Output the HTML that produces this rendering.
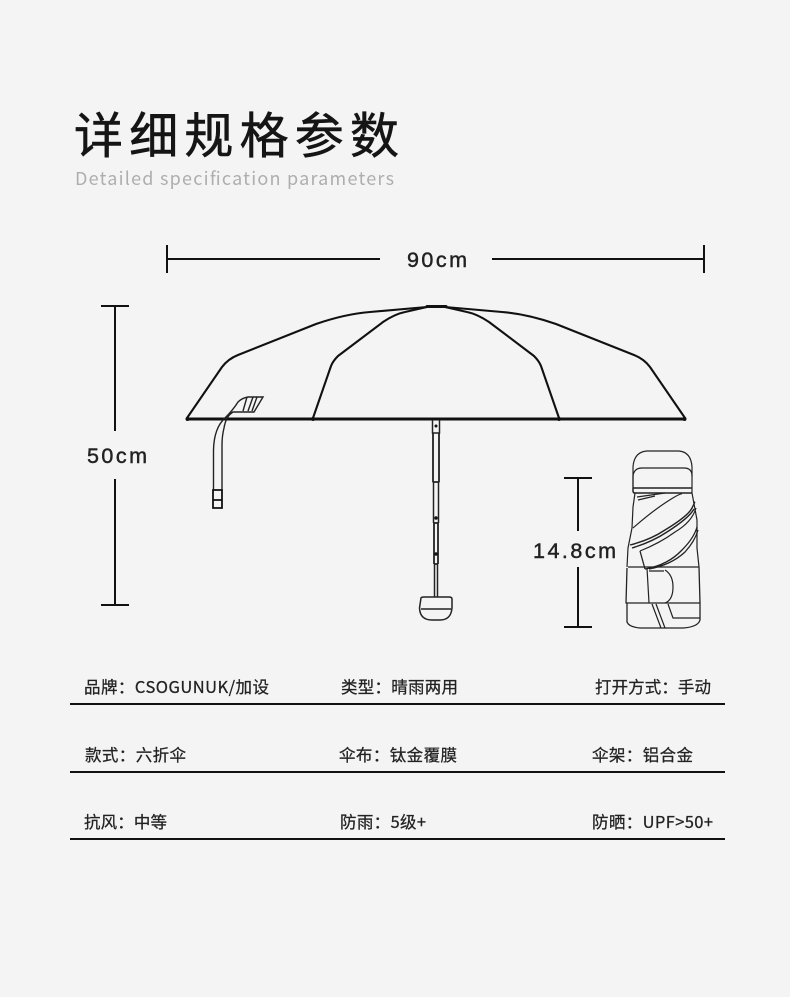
<!DOCTYPE html>
<html lang="zh"><head><meta charset="utf-8"><title>详细规格参数</title>
<style>
html,body{margin:0;padding:0;background:#f4f4f4}
svg{display:block}
.cjk{font-family:"Noto Sans CJK SC","Liberation Sans",sans-serif;fill:#222}
.t{font-size:16.5px;stroke:#222;stroke-width:.25px}
.d{font-family:"Liberation Sans",sans-serif;font-size:21.500px;fill:#222;stroke:#222;stroke-width:.45px}
</style></head><body>
<svg xmlns="http://www.w3.org/2000/svg" width="790" height="997" viewBox="0 0 790 997">
<rect width="790" height="997" fill="#f4f4f4"/>
<text class="cjk" x="74" y="153" font-size="49" textLength="325" lengthAdjust="spacing" style="fill:#151515;stroke:#151515;stroke-width:.6px">详细规格参数</text>
<text x="75" y="185" font-family="Noto Sans CJK SC,Liberation Sans,sans-serif" font-size="18" fill="#aeaeae" textLength="319" lengthAdjust="spacing">Detailed specification parameters</text>

<g stroke="#111" stroke-width="2" fill="none">
<path d="M167 245V273M167 259H380M492 259H704M704 245V273"/>
<path d="M101 306H129M115 306V431M115 479V605M101 605H129"/>
<path d="M564 478H592M578 478V531M578 567V627M564 627H592"/>
</g>
<text class="d" x="407" y="267" textLength="60" lengthAdjust="spacing">90cm</text>
<text class="d" x="87" y="463" textLength="60" lengthAdjust="spacing">50cm</text>
<text class="d" x="533" y="558" textLength="83" lengthAdjust="spacing">14.8cm</text>

<!-- canopy -->
<g fill="none" stroke="#111" stroke-width="2.100" stroke-linejoin="round" stroke-linecap="round">
<path d="M187 418L222 367Q228 359 238 355L316 324Q345 314 370 312L427 307"/>
<path d="M685 418L650 367Q644 359 634 355L556 324Q527 314 502 312L445 307"/>
<path d="M313 418L331 366Q333 361 338 356L383 322Q395 314 405 312L427 307"/>
<path d="M559 418L541 366Q539 361 534 356L489 322Q477 314 467 312L445 307"/>
<path d="M427 306.500H446" stroke-width="3"/>
</g>
<path d="M186 419H686" stroke="#111" stroke-width="3" fill="none"/>
<circle cx="187.500" cy="419" r="2" fill="#111"/><circle cx="313" cy="419" r="2" fill="#111"/>
<circle cx="559" cy="419" r="2" fill="#111"/><circle cx="684.500" cy="419" r="2" fill="#111"/>

<!-- strap -->
<g fill="none" stroke="#222" stroke-width="1.400">
<path d="M213.500 490V450Q214 428 225 418Q233 410 238 402Q242 398 248 397H263L254 412H233Q226 416 224 428Q222 436 222 445V490"/>
<path d="M247 397L243 411M253 397L248 411M257 397L252 411M225 418L233 412"/>
<path d="M213 490H222V508H213ZM213 500H222" stroke="#111" stroke-width="1.800"/>
</g>

<!-- pole -->
<g fill="none" stroke="#222" stroke-width="1.500">
<path d="M432.500 420V433H439.500V420"/>
<path d="M433 433V482M439 433V482M432.500 482H439.500" stroke-width="1.800"/>
<path d="M433.500 482V523M438.500 482V523" />
<path d="M434 523V564M438 523V564M433.500 523H438.500M434 564H438" stroke-width="1.800"/>
<path d="M434.500 564V597M437.500 564V597" stroke-width="1.500"/>
<path d="M421 598Q421 597 424 597H449Q452 597 452 599V608Q451 620 440 620H432Q420 620 419.500 608ZM421 609H451" />
</g>
<circle cx="436" cy="426" r="1.500" fill="#111"/><circle cx="436" cy="518" r="1.800" fill="#111"/><circle cx="436" cy="554" r="1.800" fill="#111"/>

<!-- compact umbrella -->
<g fill="none" stroke="#222" stroke-width="1.200" stroke-linejoin="round">
<path d="M633 488V467Q634 452 647 451H679Q691 452 692 467V493"/>
<path d="M633 488V476Q634 468 642 468H684Q692 468 692 476"/>
<path d="M633 488H692M634 493H692M633 488V491Q633 493 635 493" stroke-width="1.500"/>
<path d="M635 493L633 507L632 528L628 548L627 567M692 493L697 520L697 548L699 567"/>
<path d="M637 497L665 493M638 500L655 496"/>
<path d="M633 528Q650 513 665 503T682 494"/>
<path d="M630 545Q650 540 665 530Q688 516 692 508T694 503M632 548Q652 542 667 532Q689 518 694 509" stroke-width="1.400"/>
<path d="M640 551Q660 543 675 532Q692 522 696 508"/>
<path d="M640 551L645 569M645 569Q668 565 682 550Q694 538 697 527M649 569Q671 565 685 552Q695 541 698 530" stroke-width="1.300"/>
<path d="M628 567H699M627 568L626 603H700L699 567M627 603V622Q629 627 640 628L683 628Q698 627 700 620V603" stroke-width="1.300"/>
<path d="M647 568L649 603M665 570Q673 575 673 587Q673 600 665 603M649 571H664"/>
<path d="M652 604L661 628M656 604L665 628M668 604L673 618H700"/>
</g>

<!-- table -->
<g stroke="#111" stroke-width="2"><path d="M70 704H725M70 772H725M70 839H725"/></g>
<g>
<text class="cjk t" x="84" y="693" textLength="185" lengthAdjust="spacing">品牌：CSOGUNUK/加设</text>
<text class="cjk t" x="341" y="693" textLength="117" lengthAdjust="spacing">类型：晴雨两用</text>
<text class="cjk t" x="595" y="693" textLength="116" lengthAdjust="spacing">打开方式：手动</text>
<text class="cjk t" x="85" y="761" textLength="101" lengthAdjust="spacing">款式：六折伞</text>
<text class="cjk t" x="339" y="761" textLength="118" lengthAdjust="spacing">伞布：钛金覆膜</text>
<text class="cjk t" x="592" y="761" textLength="101" lengthAdjust="spacing">伞架：铝合金</text>
<text class="cjk t" x="84" y="828" textLength="83" lengthAdjust="spacing">抗风：中等</text>
<text class="cjk t" x="340" y="828" textLength="86" lengthAdjust="spacing">防雨：5级+</text>
<text class="cjk t" x="592" y="828" textLength="121" lengthAdjust="spacing">防晒：UPF&gt;50+</text>
</g>
</svg>
</body></html>
